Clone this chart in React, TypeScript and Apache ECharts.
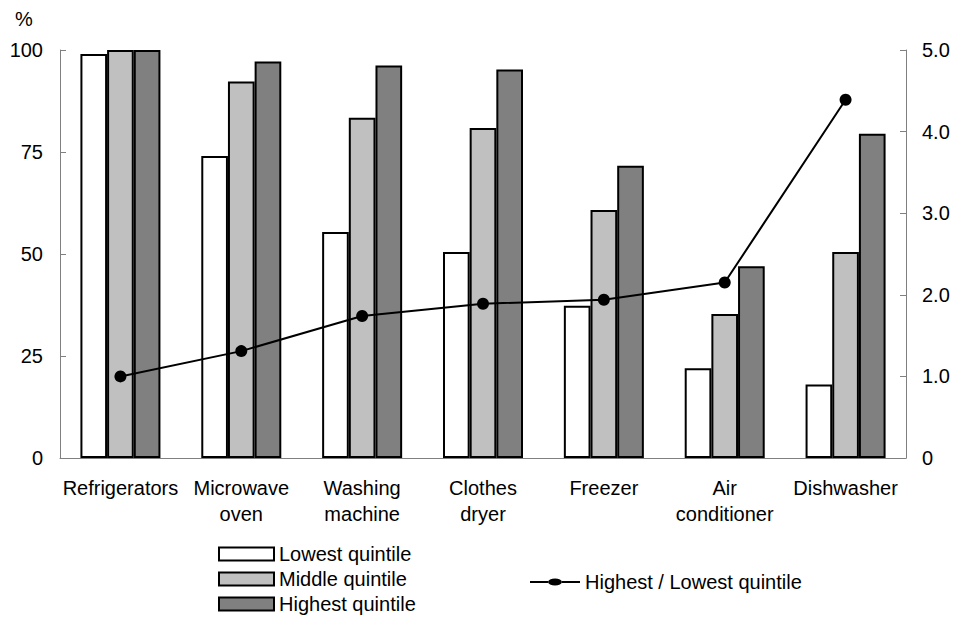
import React, { useEffect, useRef } from "react";
import * as echarts from "echarts";

const categories = [
  "Refrigerators",
  "Microwave\noven",
  "Washing\nmachine",
  "Clothes\ndryer",
  "Freezer",
  "Air\nconditioner",
  "Dishwasher",
];
const lowestQuintile = [99, 74, 55.4, 50.5, 37.3, 22, 18];
const middleQuintile = [100, 92.3, 83.4, 80.9, 60.8, 35.3, 50.5];
const highestQuintile = [100, 97.2, 96.2, 95.2, 71.6, 47, 79.5];
const highestToLowest = [1.0, 1.31, 1.74, 1.89, 1.94, 2.15, 4.39];

const FONT = "'Liberation Sans', Arial, sans-serif";
const AXIS_GREY = "#808080";

// line + dot legend glyph
const LINE_ICON =
  "path://M0,6 L18,6 L18,8 L0,8 Z M32,6 L50,6 L50,8 L32,8 Z M18,7 A7,3.5 0 1,0 32,7 A7,3.5 0 1,0 18,7 Z";

export default function App() {
  const ref = useRef<HTMLDivElement>(null);

  useEffect(() => {
    document.body.style.margin = "0";
    if (!ref.current) return;
    const chart = echarts.init(ref.current, undefined, { renderer: "svg" });

    const barItem = (color: string) => ({
      color,
      borderColor: "#000",
      borderWidth: 2,
    });

    chart.setOption({
      animation: false,
      backgroundColor: "#fff",
      textStyle: { fontFamily: FONT, color: "#000" },
      grid: { left: 60, right: 47, top: 50, bottom: 160, containLabel: false },
      legend: [
        {
          data: [
            { name: "Lowest quintile", icon: "rect" },
            { name: "Middle quintile", icon: "rect" },
            { name: "Highest quintile", icon: "rect" },
          ],
          orient: "vertical",
          left: 218,
          top: 544,
          itemWidth: 55,
          itemHeight: 13,
          itemGap: 5,
          padding: 0,
          textStyle: { fontSize: 20, fontFamily: FONT, color: "#000" },
        },
        {
          data: [{ name: "Highest / Lowest quintile", icon: LINE_ICON }],
          left: 530,
          top: 572,
          itemWidth: 50,
          itemHeight: 14,
          padding: 0,
          textStyle: { fontSize: 20, fontFamily: FONT, color: "#000" },
        },
      ],
      xAxis: {
        type: "category",
        data: categories,
        axisLine: { show: true, lineStyle: { color: AXIS_GREY, width: 1 } },
        axisTick: { show: false },
        axisLabel: {
          fontSize: 20,
          fontFamily: FONT,
          color: "#000",
          margin: 17,
          lineHeight: 26,
          interval: 0,
        },
      },
      yAxis: [
        {
          type: "value",
          min: 0,
          max: 100,
          interval: 25,
          splitLine: { show: false },
          axisLine: { show: true, lineStyle: { color: AXIS_GREY, width: 1 } },
          axisTick: { show: true, inside: true, length: 6, lineStyle: { color: AXIS_GREY } },
          axisLabel: { fontSize: 20, fontFamily: FONT, color: "#000", margin: 17 },
        },
        {
          type: "value",
          min: 0,
          max: 5,
          interval: 1,
          position: "right",
          splitLine: { show: false },
          axisLine: { show: true, lineStyle: { color: AXIS_GREY, width: 1 } },
          axisTick: { show: true, inside: true, length: 6, lineStyle: { color: AXIS_GREY } },
          axisLabel: {
            fontSize: 20,
            fontFamily: FONT,
            color: "#000",
            margin: 16,
            formatter: (v: number) => (v === 0 ? "0" : v.toFixed(1)),
          },
        },
      ],
      graphic: [
        {
          type: "text",
          left: 15,
          top: 9,
          style: { text: "%", fontSize: 20, fontFamily: FONT, fill: "#000" },
        },
      ],
      series: [
        {
          name: "Lowest quintile",
          type: "bar",
          data: lowestQuintile,
          barGap: "0%",
          barCategoryGap: "33.8%",
          itemStyle: barItem("#ffffff"),
        },
        {
          name: "Middle quintile",
          type: "bar",
          data: middleQuintile,
          itemStyle: barItem("#c0c0c0"),
        },
        {
          name: "Highest quintile",
          type: "bar",
          data: highestQuintile,
          itemStyle: barItem("#808080"),
        },
        {
          name: "Highest / Lowest quintile",
          type: "line",
          yAxisIndex: 1,
          data: highestToLowest,
          symbol: "circle",
          symbolSize: 12,
          z: 5,
          lineStyle: { color: "#000", width: 2 },
          itemStyle: { color: "#000" },
        },
      ],
    });

    return () => chart.dispose();
  }, []);

  return <div ref={ref} style={{ width: 953, height: 618 }} />;
}
